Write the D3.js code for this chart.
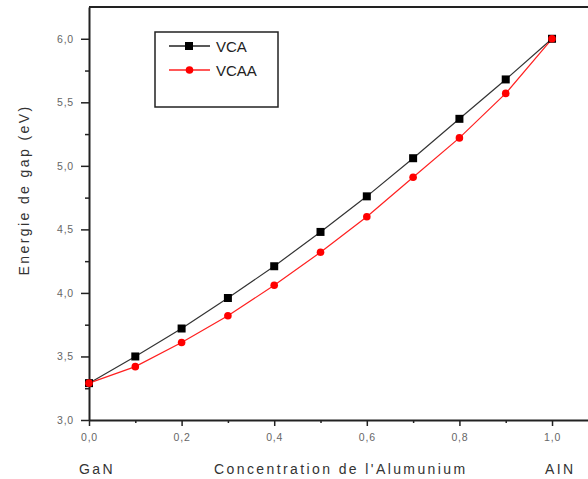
<!DOCTYPE html>
<html>
<head>
<meta charset="utf-8">
<script src="https://cdn.jsdelivr.net/npm/d3@7"></script>
<style>
  body { margin: 0; background: #fff; }
  text { font-family: "Liberation Sans", Arial, sans-serif; }
</style>
</head>
<body>
<div id="chart"></div>
<script>
const width = 588, height = 479;
const margin = {top: 7, right: 0, bottom: 59, left: 89};

// concentration x of Al
const conc = [0, 0.1, 0.2, 0.3, 0.4, 0.5, 0.6, 0.7, 0.8, 0.9, 1.0];
const vca = [3.29, 3.5, 3.72, 3.96, 4.21, 4.48, 4.76, 5.06, 5.37, 5.68, 6.0];
const vcaa = [3.29, 3.42, 3.61, 3.82, 4.06, 4.32, 4.60, 4.91, 5.22, 5.57, 6.0];
const xTicks = [0, 0.2, 0.4, 0.6, 0.8, 1.0];
const yTicks = [3.0, 3.5, 4.0, 4.5, 5.0, 5.5, 6.0];

const fmt = d => d3.format(".1f")(d).replace(".", ",");

let svg = d3.select("#chart")
    .append("svg")
    .attr("width", width)
    .attr("height", height);

let x = d3.scaleLinear()
    .domain([0, 1.0777])
    .range([margin.left, width - margin.right]);
let y = d3.scaleLinear()
    .domain([3.0, 6.25])
    .range([height - margin.bottom, margin.top]);

// top border
svg.append("line")
    .attr("x1", margin.left).attr("x2", width)
    .attr("y1", margin.top).attr("y2", margin.top)
    .attr("stroke", "#222").attr("stroke-width", 2);

// minor ticks
svg.append("g")
    .attr("transform", `translate(0, ${y(3.0)})`)
    .call(d3.axisBottom(x).tickValues([0.1, 0.3, 0.5, 0.7, 0.9]).tickSize(3).tickFormat(""))
    .call(g => g.select(".domain").remove())
    .call(g => g.selectAll("line").attr("stroke", "#222").attr("stroke-width", 1.5));
svg.append("g")
    .attr("transform", `translate(${margin.left}, 0)`)
    .call(d3.axisLeft(y).tickValues([3.25, 3.75, 4.25, 4.75, 5.25, 5.75]).tickSize(4).tickFormat(""))
    .call(g => g.select(".domain").remove())
    .call(g => g.selectAll("line").attr("stroke", "#222").attr("stroke-width", 1.5));

// major axes
let xAxis = svg.append("g")
    .attr("transform", `translate(0, ${y(3.0)})`)
    .call(d3.axisBottom(x).tickValues(xTicks).tickSize(6).tickSizeOuter(0).tickPadding(8).tickFormat(fmt));
let yAxis = svg.append("g")
    .attr("transform", `translate(${margin.left}, 0)`)
    .call(d3.axisLeft(y).tickValues(yTicks).tickSize(8).tickSizeOuter(0).tickPadding(7).tickFormat(fmt));
[xAxis, yAxis].forEach(g => {
    g.select(".domain").attr("stroke", "#222").attr("stroke-width", 2);
    g.selectAll(".tick line").attr("stroke", "#222").attr("stroke-width", 1.5);
    g.selectAll(".tick text")
        .attr("fill", "#666")
        .style("font-size", "10.5px")
        .style("letter-spacing", "0.8px")
        .style("font-family", "'Liberation Sans', Arial, sans-serif");
});

// series
let line = d3.line()
    .x((d, i) => x(conc[i]))
    .y(d => y(d));

svg.append("path")
    .datum(vca)
    .attr("fill", "none")
    .attr("stroke", "#333")
    .attr("stroke-width", 1.2)
    .attr("d", line);
svg.append("path")
    .datum(vcaa)
    .attr("fill", "none")
    .attr("stroke", "#ff2020")
    .attr("stroke-width", 1.2)
    .attr("d", line);

svg.selectAll("vca_dot").data(vca).enter()
    .append("rect")
    .attr("x", (d, i) => x(conc[i]) - 4)
    .attr("y", d => y(d) - 4)
    .attr("width", 8).attr("height", 8)
    .attr("fill", "#000");
svg.selectAll("vcaa_dot").data(vcaa).enter()
    .append("circle")
    .attr("cx", (d, i) => x(conc[i]))
    .attr("cy", d => y(d))
    .attr("r", 3.8)
    .attr("fill", "#ff0000");

// legend
let legend = svg.append("g");
legend.append("rect")
    .attr("x", 155).attr("y", 32)
    .attr("width", 123).attr("height", 75)
    .attr("fill", "#fff")
    .attr("stroke", "#222").attr("stroke-width", 1.5);
const legendItems = [
    {name: "VCA", color: "#222", marker: "rect", fill: "#000"},
    {name: "VCAA", color: "#ff2020", marker: "circle", fill: "#ff0000"}
];
legendItems.forEach((item, i) => {
    let ly = 46 + i * 24;
    legend.append("line")
        .attr("x1", 169).attr("x2", 210)
        .attr("y1", ly).attr("y2", ly)
        .attr("stroke", item.color).attr("stroke-width", 1.5);
    if (item.marker == "rect") {
        legend.append("rect")
            .attr("x", 185).attr("y", ly - 4)
            .attr("width", 8).attr("height", 8)
            .attr("fill", item.fill);
    } else {
        legend.append("circle")
            .attr("cx", 189.5).attr("cy", ly)
            .attr("r", 3.8)
            .attr("fill", item.fill);
    }
    legend.append("text")
        .attr("x", 216).attr("y", ly + 5.5)
        .style("font-size", "15px")
        .style("fill", "#222")
        .text(item.name);
});

// axis titles
svg.append("text")
    .attr("transform", `translate(29, 190) rotate(-90)`)
    .style("text-anchor", "middle")
    .style("font-size", "14px")
    .style("letter-spacing", "2.4px")
    .style("fill", "#333")
    .text("Energie de gap (eV)");

const xLabels = [
    {text: "GaN", x: 79, anchor: "start"},
    {text: "Concentration de l'Alumunium", x: 214, anchor: "start"},
    {text: "AIN", x: 545, anchor: "start"}
];
xLabels.forEach(l => {
    svg.append("text")
        .attr("x", l.x).attr("y", 474)
        .style("text-anchor", l.anchor)
        .style("font-size", "14px")
        .style("letter-spacing", "2.4px")
        .style("fill", "#333")
        .text(l.text);
});
</script>
</body>
</html>
